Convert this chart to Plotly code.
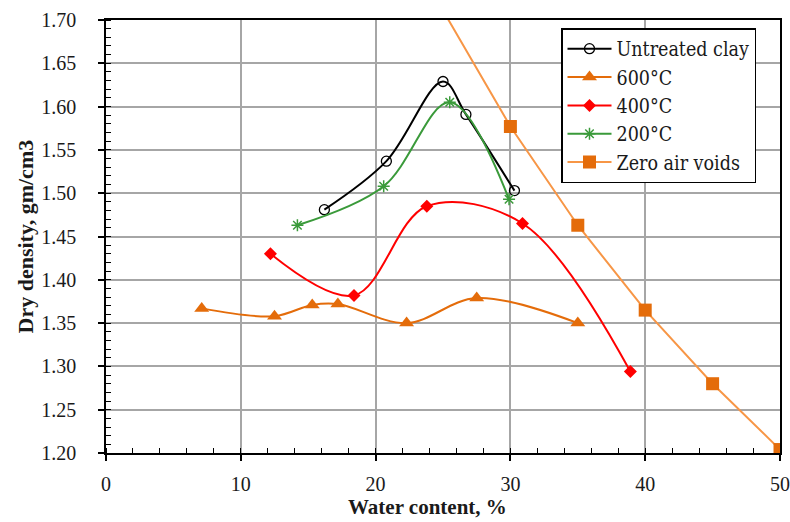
import plotly.graph_objects as go

# Compaction curves: dry density vs water content
untreated_w = [16.2, 20.8, 25.0, 26.7, 30.3]
untreated_d = [1.481, 1.537, 1.629, 1.591, 1.503]

c600_w = [7.1, 12.5, 15.3, 17.2, 22.3, 27.5, 35.0]
c600_d = [1.367, 1.358, 1.371, 1.372, 1.350, 1.379, 1.350]

c400_w = [12.2, 18.4, 23.8, 30.9, 38.9]
c400_d = [1.430, 1.382, 1.485, 1.465, 1.294]

c200_w = [14.2, 20.6, 25.5, 29.9]
c200_d = [1.463, 1.508, 1.605, 1.493]

zav_w = [25, 30, 35, 40, 45, 50]
zav_d = [1.711, 1.577, 1.463, 1.365, 1.280, 1.204]

FONT = "Liberation Serif"
LEG_FONT = "DejaVu Serif Condensed, Liberation Serif"
TXT = "#1a1a1a"

# plot area in pixels
L, R, T, B = 106, 780, 20, 453
W, H = 790, 522

fig = go.Figure()

fig.add_trace(go.Scatter(
    x=untreated_w, y=untreated_d, name="Untreated clay", mode="lines+markers",
    line=dict(color="black", width=2, shape="spline", smoothing=1),
    marker=dict(symbol="circle-open", size=10, color="black", line=dict(width=1.3)),
))
fig.add_trace(go.Scatter(
    x=c600_w, y=c600_d, name="600°C", mode="lines+markers",
    line=dict(color="#E46C0A", width=2, shape="spline", smoothing=1),
    marker=dict(symbol="triangle-up", size=13, color="#E46C0A"),
))
fig.add_trace(go.Scatter(
    x=c400_w, y=c400_d, name="400°C", mode="lines+markers",
    line=dict(color="#FF0000", width=2, shape="spline", smoothing=1),
    marker=dict(symbol="diamond", size=10, color="#FF0000"),
))
fig.add_trace(go.Scatter(
    x=c200_w, y=c200_d, name="200°C", mode="lines+markers",
    line=dict(color="#3A9A3A", width=2, shape="spline", smoothing=1),
    marker=dict(symbol="asterisk-open", size=10, color="#3A9A3A", line=dict(width=1.5, color="#3A9A3A")),
))
fig.add_trace(go.Scatter(
    x=zav_w, y=zav_d, name="Zero air voids", mode="lines+markers",
    line=dict(color="#F79646", width=2),
    marker=dict(symbol="square", size=13, color="#E46C0A"),
))

grid = "#a6a6a6"
fig.update_xaxes(
    range=[0, 50], dtick=10, tick0=0, automargin=False,
    showline=True, linecolor="black", linewidth=1.5, mirror=True,
    showgrid=True, gridcolor=grid, gridwidth=1.5,
    ticks="outside", ticklen=6, tickwidth=1.5, tickcolor="black",
    minor=dict(dtick=2, ticks="inside", ticklen=5, tickwidth=1.2, tickcolor="black", showgrid=False),
    tickfont=dict(family=FONT, size=20, color=TXT),
    ticklabelstandoff=6,
    zeroline=False,
)
fig.update_yaxes(
    range=[1.2, 1.7], dtick=0.05, tick0=1.2, tickformat=".2f", automargin=False,
    showline=True, linecolor="black", linewidth=1.5, mirror=True,
    showgrid=True, gridcolor=grid, gridwidth=1.5,
    ticks="outside", ticklen=6, tickwidth=1.5, tickcolor="black",
    minor=dict(dtick=0.01, ticks="inside", ticklen=5, tickwidth=1.2, tickcolor="black", showgrid=False),
    tickfont=dict(family=FONT, size=20, color=TXT),
    ticklabelstandoff=18,
    zeroline=False,
)

fig.add_annotation(
    text="<b>Dry density, gm/cm3</b>", xref="paper", yref="paper",
    x=(25 - L) / (R - L), y=0.5, xanchor="center", yanchor="middle", textangle=-90,
    showarrow=False, font=dict(family=FONT, size=22, color=TXT),
)
fig.add_annotation(
    text="<b>Water content, %</b>", xref="paper", yref="paper",
    x=(427 - L) / (R - L), y=(B - H) / (B - T),
    xanchor="center", yanchor="bottom", yshift=1,
    showarrow=False, font=dict(family=FONT, size=21, color=TXT),
)

fig.update_layout(
    width=W, height=H,
    margin=dict(l=L, r=W - R, t=T, b=H - B),
    paper_bgcolor="white", plot_bgcolor="white",
    showlegend=True,
    legend=dict(
        x=(561 - L) / (R - L), y=(B - 28) / (B - T), xanchor="left", yanchor="top",
        bgcolor="white", bordercolor="black", borderwidth=1.5,
        font=dict(family=LEG_FONT, size=19.5, color=TXT),
        tracegroupgap=0, itemwidth=44,
    ),
)

fig.write_html("out.html")
